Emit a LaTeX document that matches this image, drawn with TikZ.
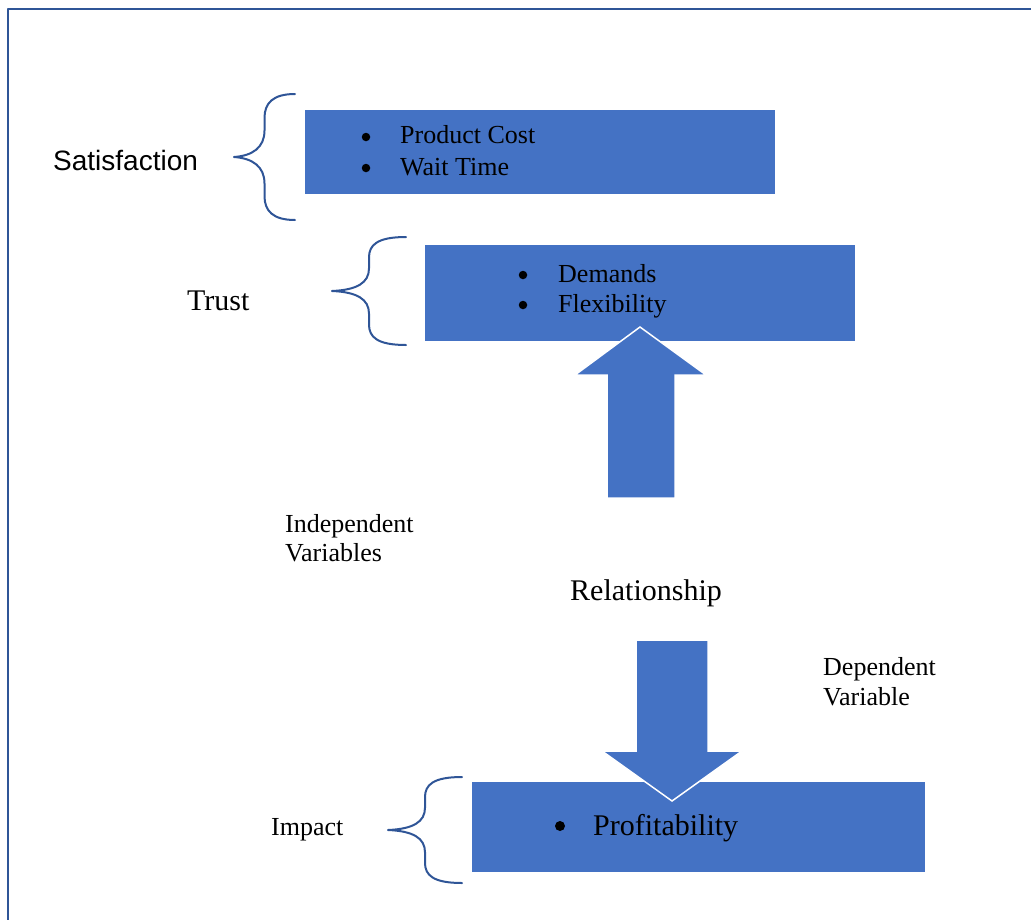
\documentclass[tikz,border=0pt]{standalone}
\usepackage{fontspec}
\setmainfont{Liberation Serif}
\newfontfamily\arialfont{Liberation Sans}
\usetikzlibrary{positioning}
\definecolor{boxblue}{HTML}{4472C4}
\definecolor{lineblue}{HTML}{2F5597}
\begin{document}
\begin{tikzpicture}[line cap=round,line join=round,x=1pt,y=-1pt,
  box/.style={fill=boxblue,inner sep=0pt},
  blockarrow/.style={fill=boxblue,draw=white,line width=1.5pt,line join=miter},
  brace/.style={draw=lineblue,line width=2pt},
  txt/.style={inner sep=0pt,anchor=base west,font=\fontsize{26pt}{30pt}\selectfont},
  bigtxt/.style={inner sep=0pt,anchor=base west,font=\fontsize{30pt}{34pt}\selectfont},
  sanstxt/.style={inner sep=0pt,anchor=base west,font=\arialfont\fontsize{28pt}{32pt}\selectfont},
  dot/.style={circle,fill=black,inner sep=0pt,minimum size=8.5pt}]
\useasboundingbox (0,0) rectangle (1031,919);
% frame
\draw[color=lineblue,line width=2pt,line cap=butt] (8,925) -- (8,9) -- (1040,9);
% boxes
\node[box,minimum width=470pt,minimum height=84pt] (satbox) at (540,152) {};
\node[box,minimum width=430pt,minimum height=96pt] (trustbox) at (640,293) {};
\node[box,minimum width=453pt,minimum height=90pt] (impactbox) at (698.5,827) {};
% braces
\foreach \tx/\ty/\ex/\h in {234/157/295/63,332/291/406/54,388/830/462/53}
\draw[brace] (\ex,{\ty-\h}) .. controls ({(\tx+\ex)/2+8},{\ty-\h}) and ({(\tx+\ex)/2},{\ty-0.85*\h}) .. ({(\tx+\ex)/2},{\ty-0.62*\h})
  -- ({(\tx+\ex)/2},{\ty-0.42*\h}) .. controls ({(\tx+\ex)/2},{\ty-0.15*\h}) and ({(\tx+\ex)/2-12},{\ty-0.02*\h}) .. (\tx,\ty)
  .. controls ({(\tx+\ex)/2-12},{\ty+0.02*\h}) and ({(\tx+\ex)/2},{\ty+0.15*\h}) .. ({(\tx+\ex)/2},{\ty+0.42*\h})
  -- ({(\tx+\ex)/2},{\ty+0.62*\h}) .. controls ({(\tx+\ex)/2},{\ty+0.85*\h}) and ({(\tx+\ex)/2+8},{\ty+\h}) .. (\ex,{\ty+\h});
% block arrows
\draw[blockarrow] (607,498) -- (607,375) -- (575,375) -- (640,327) -- (706,375) -- (675,375) -- (675,498) -- cycle;
\draw[blockarrow] (636,640) -- (708,640) -- (708,751) -- (742,751) -- (672,801) -- (602,751) -- (636,751) -- cycle;
% labels
\node[sanstxt] (satlabel) at (53,170) {Satisfaction};
\node[bigtxt] (trustlabel) at (187,310) {Trust};
\node[txt] (impactlabel) at (271,835) {Impact};
\node[txt] (indep) at (285,532) {Independent};
\node[txt] (indepvar) at (285,561) {Variables};
\node[bigtxt] (relation) at (570,600) {Relationship};
\node[txt] (dep) at (823,675) {Dependent};
\node[txt] (depvar) at (823,705) {Variable};
% bullet items
\node[dot] (costdot) at (366,137) {};
\node[txt] (cost) at (400,143) {Product Cost};
\node[dot] (waitdot) at (366,168) {};
\node[txt] (wait) at (400,175) {Wait Time};
\node[dot] (demanddot) at (523,275) {};
\node[txt] (demands) at (558,282) {Demands};
\node[dot] (flexdot) at (523,305) {};
\node[txt] (flex) at (558,312) {Flexibility};
\node[dot,minimum size=10pt] (profitdot) at (560,826) {};
\node[bigtxt] (profit) at (593,835) {Profitability};
\end{tikzpicture}
\end{document}
